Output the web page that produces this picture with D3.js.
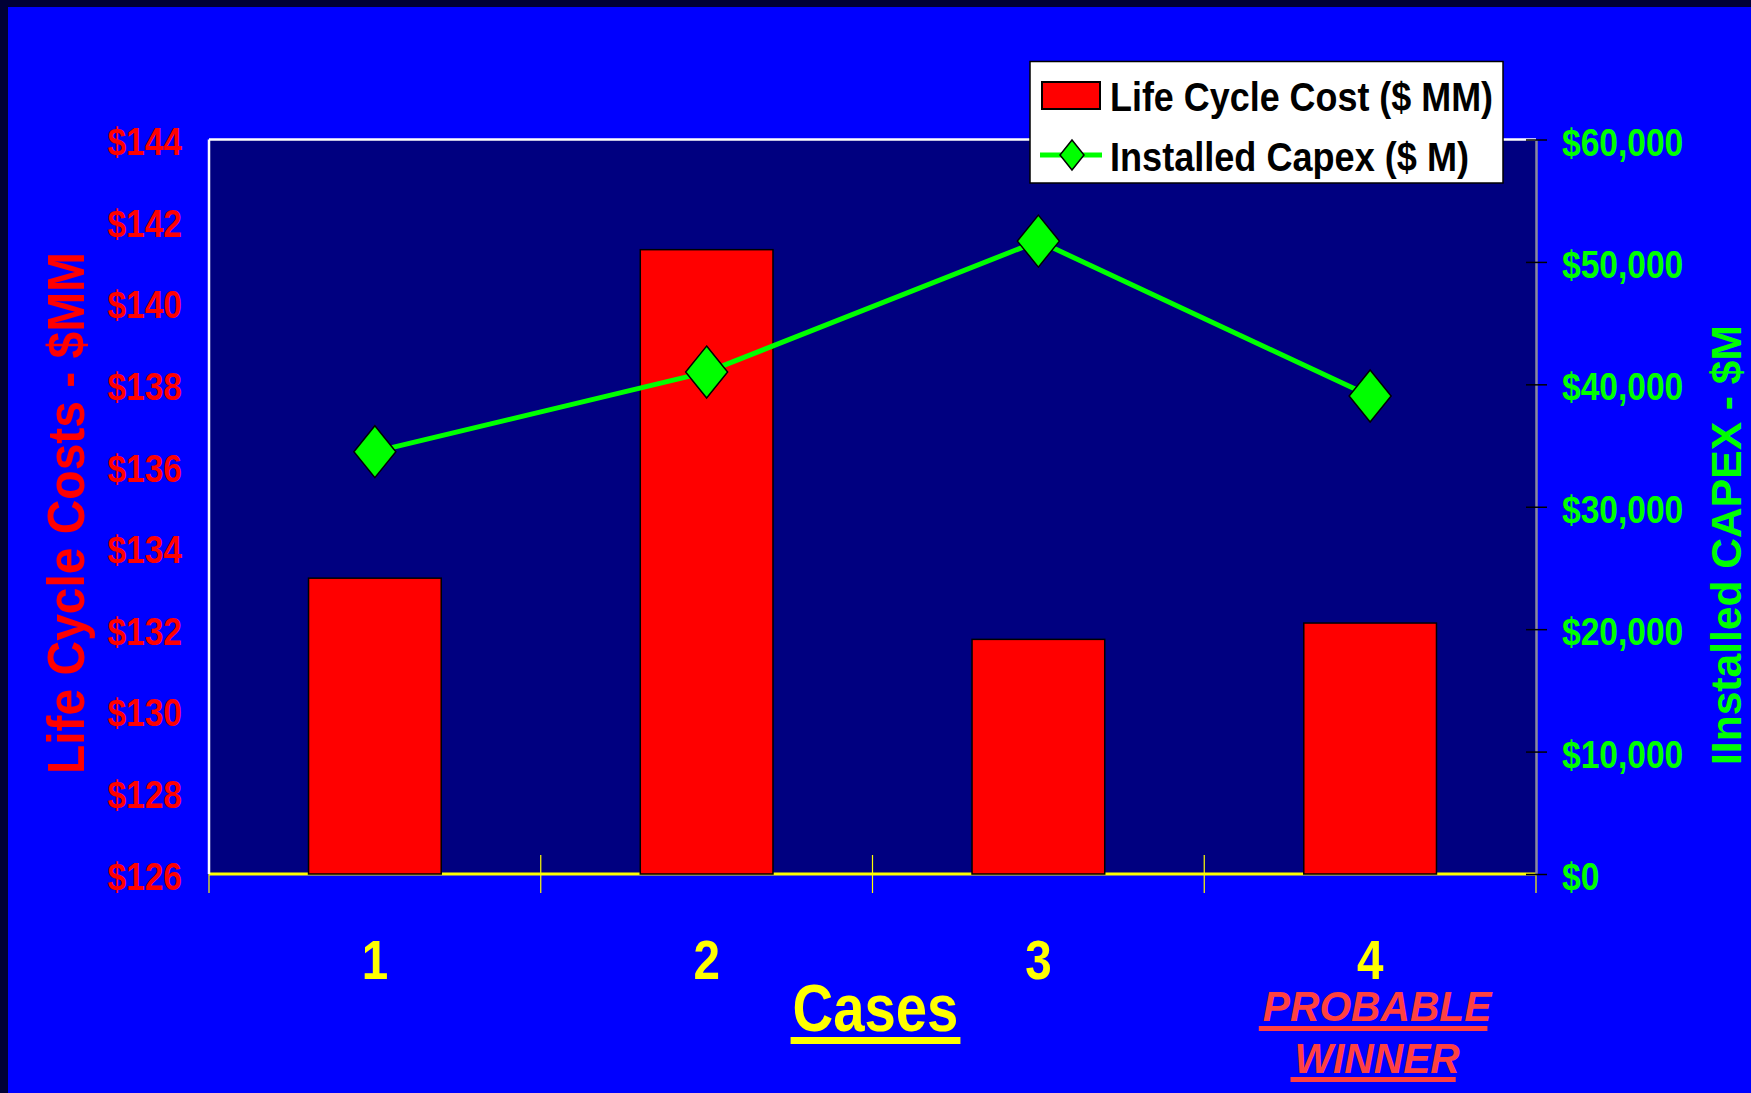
<!DOCTYPE html>
<html>
<head>
<meta charset="utf-8">
<script src="https://cdn.jsdelivr.net/npm/d3@7"></script>
<style>
  html, body { margin: 0; padding: 0; background: #0000FF; }
  svg { display: block; }
  text { font-family: "Liberation Sans", Arial, sans-serif; font-weight: bold; }
</style>
</head>
<body>
<svg id="chart" width="1751" height="1093"></svg>
<script>
// ---- data ----
const categories = ["1", "2", "3", "4"];
const lifeCycleCost = [133.25, 141.3, 131.75, 132.15];      // $ MM (left axis, bars)
const installedCapex = [34500, 41000, 51700, 39050];        // $ M (right axis, line)
const leftTicks = [126, 128, 130, 132, 134, 136, 138, 140, 142, 144];
const rightTicks = [0, 10000, 20000, 30000, 40000, 50000, 60000];
const seriesNames = ["Life Cycle Cost ($ MM)", "Installed Capex ($ M)"];
const leftTitle = "Life Cycle Costs - $MM";
const rightTitle = "IInstalled CAPEX - $M";
const xTitle = "Cases";
const noteLines = ["PROBABLE", "WINNER"];

// ---- layout ----
const W = 1751, H = 1093;
const L = 209, R = 1536, T = 139.5, B = 874;

const svg = d3.select("#chart");

function squeeze(sel, k) {
  sel.each(function () {
    const len = this.getComputedTextLength();
    this.setAttribute("textLength", len * k);
    this.setAttribute("lengthAdjust", "spacingAndGlyphs");
  });
}

// background
svg.append("rect").attr("width", W).attr("height", H).attr("fill", "#0000FF");
svg.append("rect").attr("width", W).attr("height", 7).attr("fill", "#000035");
svg.append("rect").attr("width", 8).attr("height", H).attr("fill", "#000035");

// scales
const x = d3.scaleBand().domain(categories).range([L, R]);
const yL = d3.scaleLinear().domain([126, 144]).range([B, T]);
const yR = d3.scaleLinear().domain([0, 60000]).range([B, T]);

// plot area
svg.append("rect").attr("x", L).attr("y", T).attr("width", R - L).attr("height", B - T)
  .attr("fill", "#000080");

// baseline (under bars)
svg.append("line").attr("x1", L).attr("x2", R).attr("y1", B).attr("y2", B)
  .attr("stroke", "#FFFF00").attr("stroke-width", 3);

// category boundary ticks
const bounds = categories.map(c => x(c)).concat([R]);
svg.append("g").selectAll("line").data(bounds).join("line")
  .attr("x1", d => d).attr("x2", d => d)
  .attr("y1", (d, i) => (i === 0 || i === bounds.length - 1) ? B : 855)
  .attr("y2", 893)
  .attr("stroke", "#FFFF00").attr("stroke-width", 1.2);

// bars
const bw = x.bandwidth();
svg.append("g").selectAll("rect").data(categories).join("rect")
  .attr("x", c => x(c) + bw * 0.3)
  .attr("width", bw * 0.4)
  .attr("y", (c, i) => yL(lifeCycleCost[i]))
  .attr("height", (c, i) => B - yL(lifeCycleCost[i]))
  .attr("fill", "#FF0000").attr("stroke", "#000").attr("stroke-width", 1.5);

// borders
svg.append("line").attr("x1", L).attr("x2", R).attr("y1", T).attr("y2", T)
  .attr("stroke", "#FFFFFF").attr("stroke-width", 2.5);
svg.append("line").attr("x1", L).attr("x2", L).attr("y1", T).attr("y2", B)
  .attr("stroke", "#FFFFFF").attr("stroke-width", 2.5);

// left axis
const gL = svg.append("g").attr("transform", `translate(${L},0)`)
  .call(d3.axisLeft(yL).tickValues(leftTicks).tickSize(0).tickPadding(27).tickFormat(d => "$" + d));
gL.select(".domain").remove();
gL.selectAll("text").attr("fill", "#FF0000").attr("font-size", 39)
  .attr("font-family", "Liberation Sans, Arial, sans-serif").attr("font-weight", "bold")
  .attr("dy", "0.39em");
squeeze(gL.selectAll("text"), 0.86);

// right axis
const gR = svg.append("g").attr("transform", `translate(${R},0)`)
  .call(d3.axisRight(yR).tickValues(rightTicks).tickSizeInner(11).tickSizeOuter(0)
    .tickPadding(15).tickFormat(d3.format("$,")));
gR.select(".domain").attr("stroke", "#8a8a9a").attr("stroke-width", 2.5);
gR.selectAll(".tick line").attr("x1", -10).attr("stroke", "#000").attr("stroke-width", 1.5);
gR.selectAll("text").attr("fill", "#00FF00").attr("font-size", 39)
  .attr("font-family", "Liberation Sans, Arial, sans-serif").attr("font-weight", "bold")
  .attr("dy", "0.4em");
squeeze(gR.selectAll("text"), 0.86);

// x axis labels
const gX = svg.append("g").attr("transform", `translate(0,${B})`)
  .call(d3.axisBottom(x).tickSize(0));
gX.select(".domain").remove();
gX.selectAll("text").attr("fill", "#FFFF00").attr("font-size", 56)
  .attr("font-family", "Liberation Sans, Arial, sans-serif").attr("font-weight", "bold")
  .attr("y", 105).attr("dy", 0);
squeeze(gX.selectAll("text"), 0.85);

// line series
const line = d3.line()
  .x((d, i) => x(categories[i]) + bw / 2)
  .y(d => yR(d));
svg.append("path").datum(installedCapex).attr("d", line)
  .attr("fill", "none").attr("stroke", "#00FF00").attr("stroke-width", 5)
  .attr("stroke-linejoin", "round");
const diamond = (hw, hh) => `M0,${-hh}L${hw},0L0,${hh}L${-hw},0Z`;
svg.append("g").selectAll("path").data(installedCapex).join("path")
  .attr("transform", (d, i) => `translate(${x(categories[i]) + bw / 2},${yR(d)})`)
  .attr("d", diamond(21, 26))
  .attr("fill", "#00FF00").attr("stroke", "#000").attr("stroke-width", 1.5);

// axis titles
svg.append("text").attr("transform", "translate(84,513) rotate(-90)")
  .attr("text-anchor", "middle").attr("font-size", 52).attr("fill", "#FF0000")
  .attr("textLength", 522).attr("lengthAdjust", "spacingAndGlyphs")
  .text(leftTitle);
svg.append("text").attr("transform", "translate(1741,545) rotate(-90)")
  .attr("text-anchor", "middle").attr("font-size", 42).attr("fill", "#00FF00")
  .attr("textLength", 440).attr("lengthAdjust", "spacingAndGlyphs")
  .text(rightTitle);

// x title
const cx = (L + R) / 2 + 3;
const casesT = svg.append("text").attr("x", cx).attr("y", 1031)
  .attr("text-anchor", "middle").attr("font-size", 67).attr("fill", "#FFFF00")
  .text(xTitle);
squeeze(casesT, 0.84);
const cw = +casesT.attr("textLength");
svg.append("rect").attr("x", cx - cw / 2 - 2).attr("y", 1037).attr("width", cw + 4).attr("height", 7)
  .attr("fill", "#FFFF00");

// note
const noteX = x(categories[3]) + bw / 2 + 7;
const noteY = [1020.5, 1073];
const noteU = [[1026, 5], [1077, 5]];
noteLines.forEach((s, i) => {
  const t = svg.append("text").attr("x", noteX).attr("y", noteY[i])
    .attr("text-anchor", "middle").attr("font-size", 42).attr("font-style", "italic")
    .attr("fill", "#FF4040").text(s);
  squeeze(t, 0.97);
  const w = +t.attr("textLength");
  svg.append("rect").attr("x", noteX - w / 2 - 4).attr("y", noteU[i][0])
    .attr("width", w).attr("height", noteU[i][1]).attr("fill", "#FF4040");
});

// legend
const lg = svg.append("g");
lg.append("rect").attr("x", 1030).attr("y", 61.5).attr("width", 473).attr("height", 121.5)
  .attr("fill", "#FFFFFF").attr("stroke", "#000").attr("stroke-width", 1.5);
lg.append("rect").attr("x", 1042).attr("y", 82).attr("width", 58).attr("height", 27)
  .attr("fill", "#FF0000").attr("stroke", "#000").attr("stroke-width", 2);
lg.append("text").attr("x", 1110).attr("y", 110.5).attr("font-size", 40).attr("fill", "#000")
  .attr("textLength", 383).attr("lengthAdjust", "spacingAndGlyphs").text(seriesNames[0]);
lg.append("line").attr("x1", 1040).attr("x2", 1102).attr("y1", 155).attr("y2", 155)
  .attr("stroke", "#00FF00").attr("stroke-width", 5);
lg.append("path").attr("transform", "translate(1072,155)").attr("d", diamond(12, 15))
  .attr("fill", "#00FF00").attr("stroke", "#000").attr("stroke-width", 1.5);
lg.append("text").attr("x", 1110).attr("y", 170.5).attr("font-size", 40).attr("fill", "#000")
  .attr("textLength", 359).attr("lengthAdjust", "spacingAndGlyphs").text(seriesNames[1]);
</script>
</body>
</html>
